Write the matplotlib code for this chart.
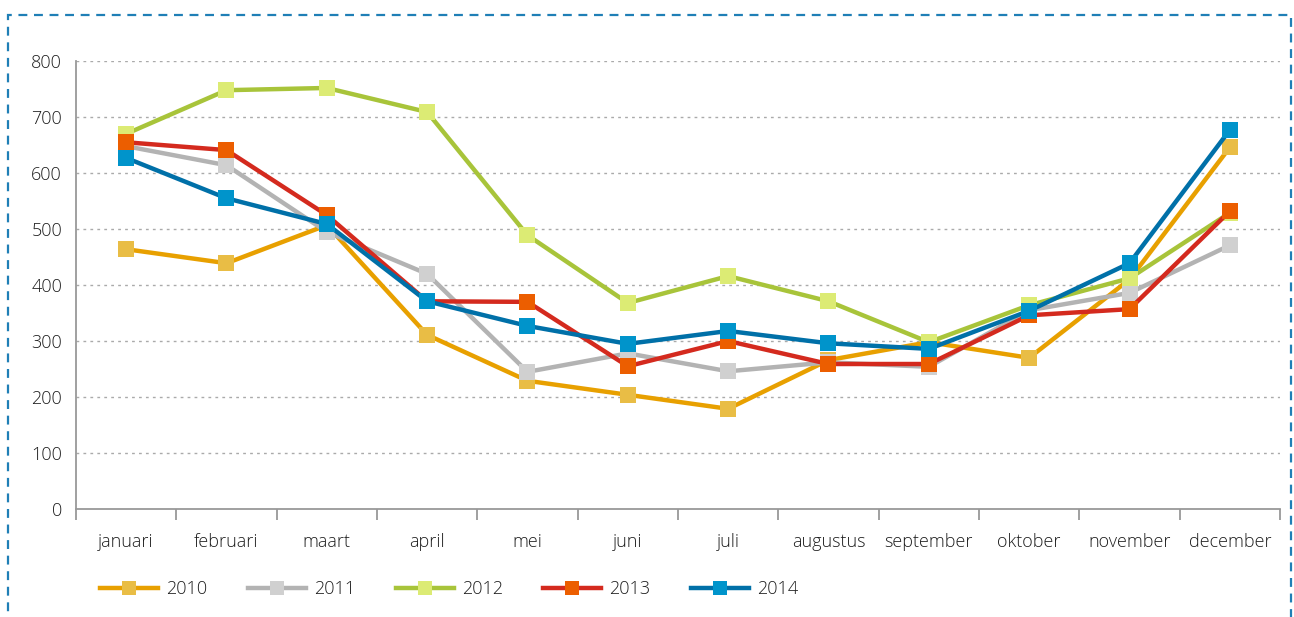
import matplotlib.pyplot as plt
from matplotlib.patches import Rectangle
import numpy as np

months = ["januari", "februari", "maart", "april", "mei", "juni", "juli",
          "augustus", "september", "oktober", "november", "december"]
years = ["2010", "2011", "2012", "2013", "2014"]

v2010 = [464, 439, 507, 311, 229, 204, 179, 266, 298, 270, 410, 646]
v2011 = [648, 614, 495, 420, 245, 278, 246, 262, 254, 355, 386, 471]
v2012 = [670, 748, 752, 709, 489, 368, 416, 371, 298, 364, 412, 529]
v2013 = [655, 641, 525, 371, 370, 255, 300, 259, 259, 346, 357, 532]
v2014 = [627, 555, 509, 371, 327, 295, 318, 296, 286, 354, 439, 677]

line_colors = ["#E8A000", "#B3B3B3", "#A8C43A", "#D42A1E", "#0070A8"]
marker_colors = ["#E9BD45", "#D0D0D0", "#DCEB74", "#EC5E00", "#0094CB"]

plt.rcParams['font.family'] = ['Open Sans', 'DejaVu Sans']
plt.rcParams['font.weight'] = 'light'

fig = plt.figure(figsize=(12.94, 6.17), dpi=100)
ax = fig.add_axes([0.0587, 0.175, 0.9305, 0.726])

# dashed frame around everything
fig.patches.append(Rectangle((0.0065, -0.05), 0.9915, 1.026, transform=fig.transFigure,
                             fill=False, ls=(0, (4, 3)), lw=1.6, ec="#1F7FB6"))

x = np.arange(len(months))
for vals, yr, lc, mc in zip([v2010, v2011, v2012, v2013, v2014], years, line_colors, marker_colors):
    ax.plot(x, vals, color=lc, lw=3.2, marker="s", markersize=12,
            markerfacecolor=mc, markeredgewidth=0, label=yr)

ax.set_xlim(-0.5, 11.5)
ax.set_ylim(0, 800)
ax.set_yticks(range(0, 801, 100))
ax.set_xticks(x)
ax.set_xticklabels(months)
ax.set_xticks(np.arange(-0.5, 12, 1), minor=True)
ax.tick_params(axis="x", which="major", length=0, pad=17, labelsize=13, labelcolor="#1E1E1E")
ax.tick_params(axis="x", which="minor", length=8, width=1.3, color="#999999")
ax.tick_params(axis="y", length=0, pad=10, labelsize=13, labelcolor="#1E1E1E")
ax.yaxis.grid(True, ls=(0, (2, 3)), color="#AAAAAA", lw=1)
ax.set_axisbelow(True)
for s in ["top", "right"]:
    ax.spines[s].set_visible(False)
for s in ["left", "bottom"]:
    ax.spines[s].set_color("#999999")
    ax.spines[s].set_linewidth(1.3)
ax.get_ygridlines()[0].set_visible(False)

h, l = ax.get_legend_handles_labels()
leg = fig.legend(h, l, loc="center left", bbox_to_anchor=(0.065, 0.045), ncol=5,
                 frameon=False, fontsize=13, handlelength=3.2, columnspacing=2.25,
                 handletextpad=0.45, markerscale=0.8)
for t in leg.get_texts():
    t.set_color("#1E1E1E")

fig.savefig("out.png", dpi=100)
